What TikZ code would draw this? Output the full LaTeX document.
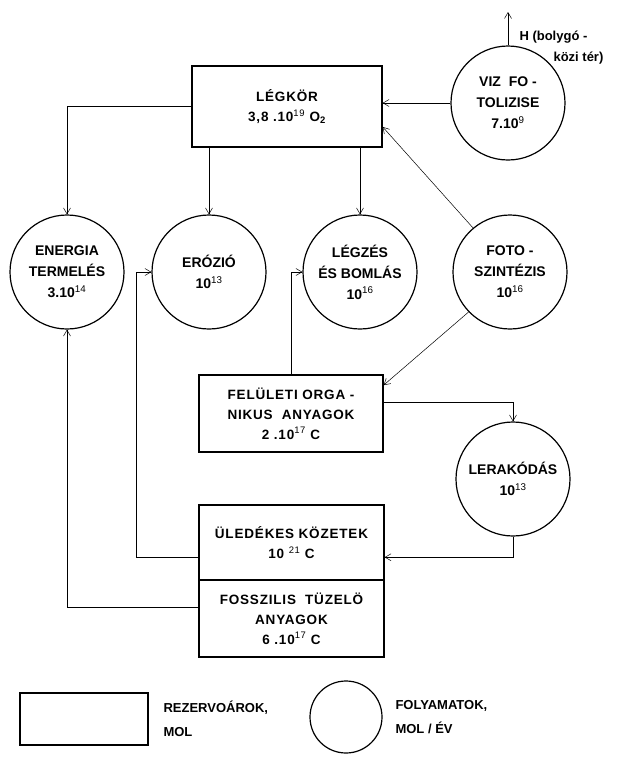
\documentclass[tikz,border=0pt]{standalone}
\usepackage{fontspec}
\setmainfont{Liberation Sans}
\usetikzlibrary{arrows.meta,positioning}
\newcommand{\pw}[1]{\textsuperscript{\mdseries #1}}

\begin{document}
\begin{tikzpicture}[x=1pt, y=1pt, node distance=142pt, on grid,
  every node/.style={font=\fontsize{14}{21}\selectfont\bfseries, align=center},
  process/.style={circle, draw, line width=1.2pt, minimum size=114pt, inner sep=0pt},
  reservoir/.style={rectangle, draw, line width=1.2pt, minimum width=185pt, minimum height=77pt,
    font=\fontsize{13.5}{20}\selectfont\bfseries\addfontfeature{LetterSpace=6}},
  key/.style={font=\fontsize{13}{24}\selectfont\bfseries, align=left, anchor=west},
  flow/.style={line width=0.5pt, -{Straight Barb[length=6pt,width=7pt]}}]
\useasboundingbox (0,0) rectangle (617,-761);

% tarolok es folyamatok
\node [reservoir, minimum width=190pt, minimum height=81pt] (legkor) at (287,-106.5) {LÉGKÖR\\3,8 .10\pw{19} O\textsubscript{2}};
\node [process] (viz) at (508,-103) {VIZ\ \ FO -\\TOLIZISE\\7.10\pw{9}};
\node [process] (energia) at (67,-272) {ENERGIA\\TERMELÉS\\3.10\pw{14}};
\node [process] (erozio) [right=142pt of energia] {ERÓZIÓ\\10\pw{13}};
\node [process] (legzes) [right=151pt of erozio] {LÉGZÉS\\ÉS BOMLÁS\\10\pw{16}};
\node [process] (foto) [right=150pt of legzes] {FOTO -\\SZINTÉZIS\\10\pw{16}};
\node [reservoir, minimum width=184pt] (feluleti) at (291,-413.5) {FELÜLETI ORGA -\\NIKUS\ \ ANYAGOK\\2 .10\pw{17} C};
\node [process] (lerak) at (513,-479) {LERAKÓDÁS\\10\pw{13}};
\node [reservoir, minimum height=75pt] (uled) at (291.5,-542.5) {ÜLEDÉKES KÖZETEK\\10 \pw{21} C};
\node [reservoir] (fossz) [below=76pt of uled] {FOSSZILIS\ \ TÜZELÖ\\ANYAGOK\\6 .10\pw{17} C};
\coordinate (hout) at (508,-12);
\node [anchor=north west, align=left, font=\fontsize{13}{21}\selectfont\bfseries] (hlabel) at (516,-27) {H (bolygó -\\\hspace*{34pt}közi tér)};

% folyamok
\draw [flow] (viz.north) -- (hout);
\draw [flow] (viz.west) -- (viz.west -| legkor.east);
\draw [flow] (foto.130) -- (legkor.-12);
\draw [flow] (legkor.west) -| (energia.north);
\draw [flow] (legkor.south -| erozio.north) -- (erozio.north);
\draw [flow] (legkor.south -| legzes.north) -- (legzes.north);
\draw [flow] (feluleti.north) |- (legzes.west);
\draw [flow] (uled.189) -- ++(-62pt,0) |- (erozio.west);
\draw [flow] (foto.224) -- (feluleti.17);
\draw [flow] (feluleti.7) -| (lerak.north);
\draw [flow] (lerak.south) |- (uled.-9);
\draw [flow] (fossz.173) -| (energia.south);

% jelmagyarazat
\node [reservoir, minimum width=128pt, minimum height=52pt] (rkey) at (84,-719) {};
\node [key] (rtext) at (160,-719) {REZERVOÁROK,\\MOL};
\node [process, minimum size=72pt] (pkey) at (346,-717) {};
\node [key] (ptext) at (392,-717) {FOLYAMATOK,\\MOL / ÉV};
\end{tikzpicture}
\end{document}
